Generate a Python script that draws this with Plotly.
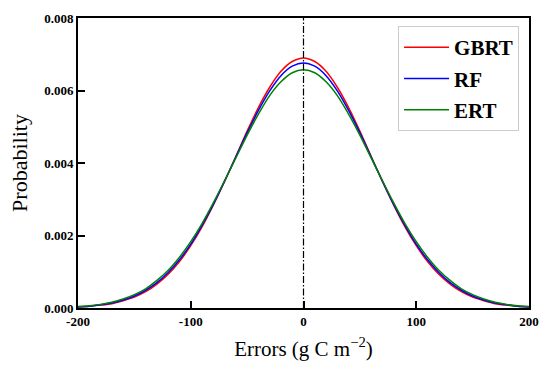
import plotly.graph_objects as go

errors = [-200, -190, -180, -170, -160, -150, -140, -130, -120, -110, -100, -90, -80, -70, -60, -50, -40, -30, -20, -10, 0,
          10, 20, 30, 40, 50, 60, 70, 80, 90, 100, 110, 120, 130, 140, 150, 160, 170, 180, 190, 200]
gbrt = [0.00003, 0.00005, 0.00008, 0.00012, 0.00020, 0.00030, 0.00045, 0.00066, 0.00093, 0.00128, 0.00172,
        0.00224, 0.00284, 0.00349, 0.00418, 0.00488, 0.00553, 0.00609, 0.00653, 0.00680, 0.00690,
        0.00680, 0.00653, 0.00609, 0.00553, 0.00488, 0.00418, 0.00349, 0.00284, 0.00224, 0.00172,
        0.00128, 0.00093, 0.00066, 0.00045, 0.00030, 0.00020, 0.00012, 0.00008, 0.00005, 0.00003]
rf = [0.00003, 0.00005, 0.00009, 0.00014, 0.00022, 0.00033, 0.00049, 0.00070, 0.00098, 0.00133, 0.00176,
      0.00228, 0.00286, 0.00350, 0.00417, 0.00483, 0.00545, 0.00599, 0.00641, 0.00667, 0.00676,
      0.00667, 0.00641, 0.00599, 0.00545, 0.00483, 0.00417, 0.00350, 0.00286, 0.00228, 0.00176,
      0.00133, 0.00098, 0.00070, 0.00049, 0.00033, 0.00022, 0.00014, 0.00009, 0.00005, 0.00003]
ert = [0.00004, 0.00006, 0.00010, 0.00016, 0.00025, 0.00037, 0.00053, 0.00076, 0.00104, 0.00140, 0.00183,
       0.00233, 0.00290, 0.00351, 0.00414, 0.00477, 0.00535, 0.00586, 0.00624, 0.00649, 0.00657,
       0.00649, 0.00624, 0.00586, 0.00535, 0.00477, 0.00414, 0.00351, 0.00290, 0.00233, 0.00183,
       0.00140, 0.00104, 0.00076, 0.00053, 0.00037, 0.00025, 0.00016, 0.00010, 0.00006, 0.00004]

series = [("GBRT", gbrt, "#ff0000"), ("RF", rf, "#0000ff"), ("ERT", ert, "#008000")]
xticks = [-200, -100, 0, 100, 200]
yticks = [0.000, 0.002, 0.004, 0.006, 0.008]

FONT = "Liberation Serif"

fig = go.Figure()
for name, vals, col in series:
    fig.add_trace(go.Scatter(x=errors, y=vals, name=name, mode="lines", legendgroup=name,
                             line=dict(color=col, width=1.5, shape="spline", smoothing=0.8)))

fig.add_vline(x=0, line=dict(color="black", width=1.2, dash="7px,2px,1.5px,2px"))

axis_common = dict(showline=True, linecolor="black", linewidth=2, mirror=True,
                   ticks="inside", ticklen=7, tickwidth=2, tickcolor="black",
                   showgrid=False, zeroline=False,
                   tickfont=dict(family=FONT, size=13, color="black", weight="bold"))

fig.update_xaxes(range=[-200, 200], tickvals=xticks, ticktext=[str(v) for v in xticks],
                 title=dict(text="Errors (g C m<sup>−2</sup>)", font=dict(family=FONT, size=21, color="black"),
                            standoff=14),
                 **axis_common)
fig.update_yaxes(range=[0, 0.008], tickvals=yticks, ticktext=["%.3f" % v for v in yticks],
                 title=dict(text="Probability", font=dict(family=FONT, size=22, color="black"), standoff=10),
                 **axis_common)

fig.update_layout(
    width=550, height=376,
    margin=dict(l=78, r=17, t=11, b=68),
    plot_bgcolor="white", paper_bgcolor="white",
    legend=dict(x=0.978, y=0.972, xanchor="right", yanchor="top",
                bgcolor="white", bordercolor="#cccccc", borderwidth=1,
                font=dict(family=FONT, size=21, color="black", weight="bold"),
                itemwidth=45, tracegroupgap=1),
)

fig.write_html("out.html", config={"displayModeBar": False},
               post_script="document.body.style.margin='0px';")
